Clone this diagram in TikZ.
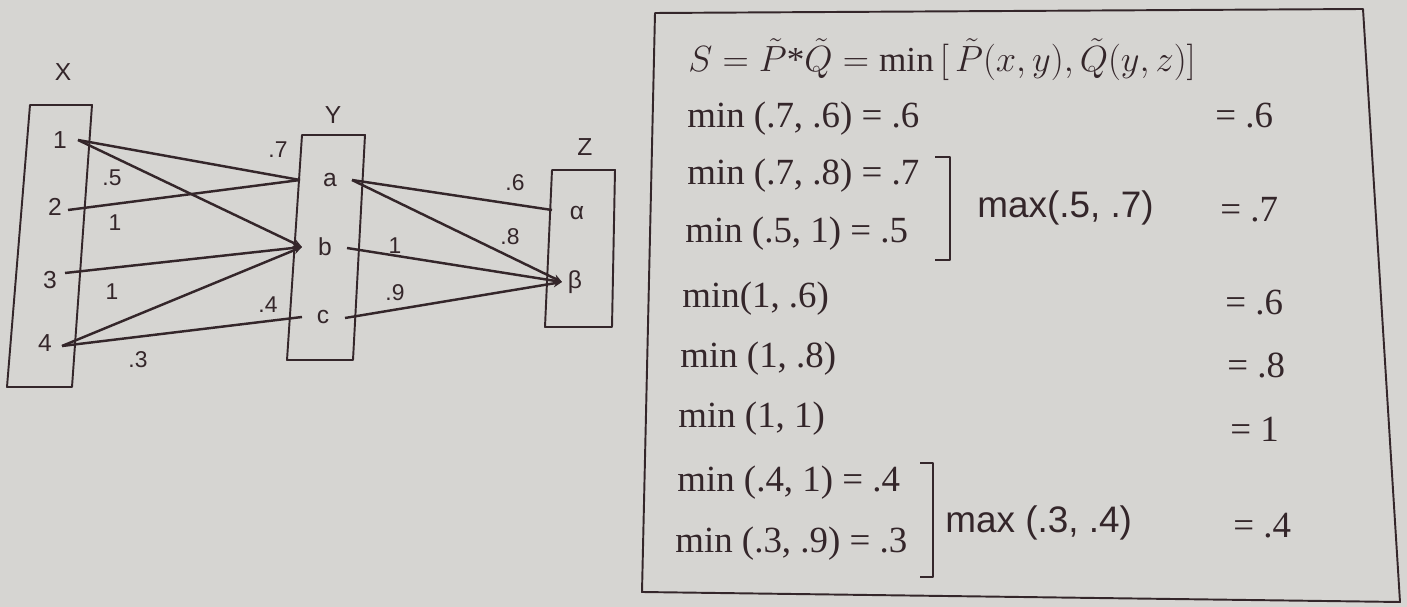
\documentclass[tikz,border=0pt]{standalone}
\usepackage{fontspec}
\setmainfont{Liberation Serif}
\setsansfont{Liberation Sans}
\usepackage{tikz}
\usetikzlibrary{arrows.meta}
\definecolor{paper}{RGB}{214,213,210}
\definecolor{ink}{RGB}{52,38,42}

\begin{document}
\begin{tikzpicture}[
  x=0.02cm,
  y=-0.02cm,
  setbox/.style={draw=ink, line width=1.1pt, line join=round},
  link/.style={draw=ink, line width=1.4pt},
  hub/.style={link, -{Stealth[length=5pt,width=4.5pt]}},
  elem/.style={text=ink, font=\sffamily\fontsize{14}{16}\selectfont, inner sep=0pt},
  weight/.style={text=ink, font=\sffamily\fontsize{13}{15}\selectfont, inner sep=0pt},
  calc/.style={text=ink, font=\fontsize{21}{25}\selectfont, anchor=base west, inner sep=0pt},
  maxcalc/.style={calc, font=\sffamily\fontsize{21}{25}\selectfont}
]
  \useasboundingbox[fill=paper] (0,0) rectangle (1407,607);

  % sets X, Y, Z
  \draw[setbox] (30,105) -- (92,105) -- (72,387) -- (7,387) -- cycle;
  \draw[setbox] (302,135) -- (365,135) -- (353,360) -- (287,360) -- cycle;
  \draw[setbox] (552,170) -- (615,170) -- (612,327) -- (545,327) -- cycle;
  \node[elem] (setX) at (63,72) {X};
  \node[elem] (setY) at (333,115) {Y};
  \node[elem] (setZ) at (585,147) {Z};

  \foreach \n/\x/\y in {1/60/140, 2/55/207, 3/50/280, 4/45/343} {
    \node[elem] (x\n) at (\x,\y) {\n};
  }
  \node[elem] (ya) at (330,180) {a};
  \node[elem] (yb) at (325,247) {b};
  \node[elem] (yc) at (323,317) {c};
  \node[elem] (za) at (577,213) {α};
  \node[elem] (zb) at (575,282) {β};

  % ports where the lines meet the elements
  \coordinate (x1p) at (78,140);
  \coordinate (x2p) at (68,210);
  \coordinate (x3p) at (65,273);
  \coordinate (x4p) at (62,346);
  \coordinate (ya-in) at (300,180);
  \coordinate (ya-out) at (352,180);
  \coordinate (yb-in) at (302,247);
  \coordinate (yb-out) at (347,248);
  \coordinate (yc-in) at (302,317);
  \coordinate (yc-out) at (345,318);
  \coordinate (za-in) at (552,210);
  \coordinate (zb-in) at (562,282);

  \draw[link] (x1p) -- (ya-in);
  \draw[hub] (x1p) -- (yb-in);
  \draw[link] (x2p) -- (ya-in);
  \draw[hub] (x3p) -- (yb-in);
  \draw[hub] (x4p) -- (yb-in);
  \draw[link] (x4p) -- (yc-in);
  \draw[link] (ya-out) -- (za-in);
  \draw[hub] (ya-out) -- (zb-in);
  \draw[hub] (yb-out) -- (zb-in);
  \draw[hub] (yc-out) -- (zb-in);

  \node[weight] (w1a) at (278,150) {.7};
  \node[weight] (w1b) at (112,178) {.5};
  \node[weight] (w2a) at (115,223) {1};
  \node[weight] (w3b) at (112,292) {1};
  \node[weight] (w4b) at (268,305) {.4};
  \node[weight] (w4c) at (138,360) {.3};
  \node[weight] (waa) at (515,183) {.6};
  \node[weight] (wab) at (510,237) {.8};
  \node[weight] (wbb) at (395,246) {1};
  \node[weight] (wcb) at (395,293) {.9};

  % composition worked out
  \draw[setbox] (655,13) -- (1363,9) -- (1400,602) -- (642,592) -- cycle;
  \node[calc, font=\fontsize{20}{24}\selectfont] (rule) at (688,72) {$S=\tilde{P}\mbox{*}\tilde{Q}=\min\,[\,\tilde{P}(x,y),\tilde{Q}(y,z)]$};
  \node[calc] (m1) at (687,128) {min (.7, .6) = .6};
  \node[calc] (m2) at (687,185) {min (.7, .8) = .7};
  \node[calc] (m3) at (685,243) {min (.5, 1) = .5};
  \node[calc] (m4) at (682,308) {min(1, .6)};
  \node[calc] (m5) at (680,368) {min (1, .8)};
  \node[calc] (m6) at (678,428) {min (1, 1)};
  \node[calc] (m7) at (677,492) {min (.4, 1) = .4};
  \node[calc] (m8) at (675,553) {min (.3, .9) = .3};
  \draw[setbox] (935,157) -- (950,157) -- (950,260) -- (935,260);
  \draw[setbox] (920,463) -- (933,463) -- (933,577) -- (920,577);
  \node[maxcalc] (mx1) at (977,218) {max(.5, .7)};
  \node[maxcalc] (mx2) at (945,533) {max (.3, .4)};
  \foreach \x/\y/\v [count=\i] in {1215/128/.6, 1220/222/.7, 1225/315/.6, 1227/378/.8, 1230/442/1, 1233/538/.4} {
    \node[calc] (r\i) at (\x,\y) {= \v};
  }
\end{tikzpicture}
\end{document}
